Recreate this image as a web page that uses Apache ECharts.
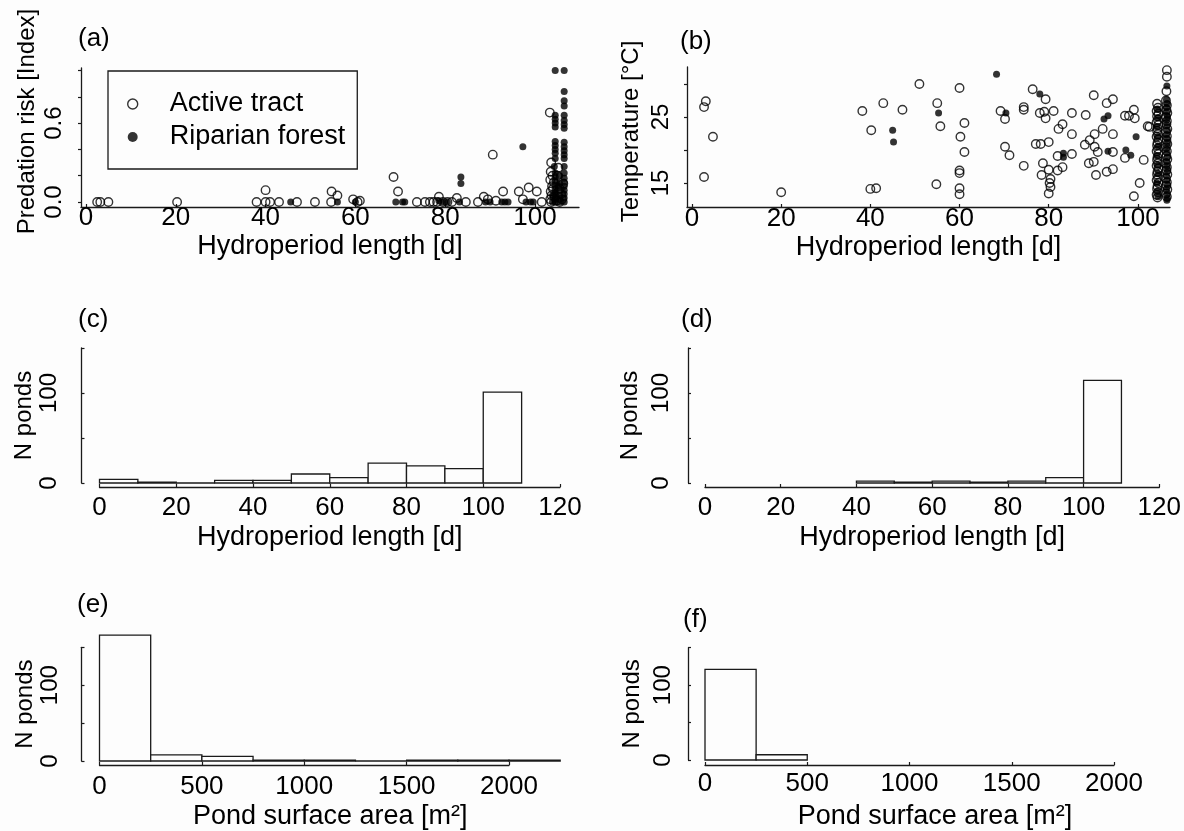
<!DOCTYPE html>
<html>
<head>
<meta charset="utf-8">
<script src="https://cdn.jsdelivr.net/npm/echarts@6/dist/echarts.min.js"></script>
<style>
html,body{margin:0;padding:0;background:#fdfdfd;}
#chart{width:1184px;height:831px;}
</style>
</head>
<body>
<div id="chart"></div>
<script>
// ---------- DATA ----------
// (a) Predation risk vs hydroperiod length  [hydroperiod d, risk index]
const predationActive = [
  [2.5,0],[3.2,0],[5,0],[20.3,0],[38,0],[40,0.09],[40,0],[41,0],[43,0],[47,0],[51,0],
  [54.6,0],[54.7,0.08],[56,0.05],[59.5,0.02],[60.5,0],[61,0.01],[68.5,0.19],[69.5,0.08],
  [73.7,0],[75.5,0],[76.6,0],[77.4,0],[78.2,0],[78.6,0.04],[79.5,0],[80.5,0],[81.5,0],
  [82.6,0.03],[84.6,0],[87.3,0],[88.6,0.04],[89.5,0.02],[90.6,0.36],[91.3,0.01],[92.9,0.08],
  [96.4,0.08],[97.3,0.02],[98.6,0.11],[100.4,0.08],[101.5,0],
  [103.3,0.68],[103.5,0.23],[103.6,0.30],[103.4,0.17],[103.8,0.12],[103.5,0.08],[103.7,0.05],
  [103.4,0.02],[103.6,0],[104.2,0.15],[104.0,0.10],[104.4,0.04],[105.0,0.20],[105.2,0.26],
  [105.5,0.10],[105.8,0.06],[106.0,0.02],[106.3,0.14],[104.8,0.01],[105.5,0],[103.9,0.20]
];
const predationRiparian = [
  [45.6,0],[56,0],[60,0],[69,0],[70.5,0],[71,0],[78.6,0.01],[79.5,0],[80.5,0],[83.5,0.19],
  [83.5,0.14],[83.2,0],[89,0],[90,0],[92.6,0],[93.3,0],[94,0],[97.3,0.42],[98,0],[99,0],[99.6,0],
  [104.5,1.0],[104.5,0.66],[104.5,0.63],[104.5,0.60],[104.5,0.57],[104.5,0.46],[104.5,0.43],
  [104.5,0.40],[104.5,0.37],[104.5,0.33],[104.3,0.27],[104.5,0.22],[104.5,0.19],[104.5,0.16],
  [104.5,0.13],[104.5,0.10],[104.5,0.07],[104.5,0.04],[104.5,0.02],[104.5,0],
  [106.5,1.0],[106.5,0.84],[106.5,0.77],[106.5,0.73],[106.5,0.66],[106.5,0.62],[106.5,0.59],
  [106.5,0.56],[106.5,0.455],[106.5,0.42],[106.5,0.39],[106.5,0.36],[106.5,0.33],[106.5,0.27],
  [106.5,0.22],[106.5,0.18],[106.5,0.15],[106.5,0.12],[106.5,0.09],[106.5,0.06],[106.5,0.03],[106.5,0],
  [105.5,0.20],[105.5,0.14],[105.5,0.09],[105.5,0.05],[105.5,0.02],[105.5,0],[105.3,0.12],[103.9,0.05],[103.9,0]
];
// (b) Temperature vs hydroperiod length  [hydroperiod d, temperature °C]
const temperatureActive = [
  [2.7,26.5],[3.1,27.4],[4.7,22.0],[2.7,15.9],[20,13.6],[38.2,25.9],[40.2,23.0],[40,14.1],[41.3,14.2],
  [42.9,27.1],[47.2,26.1],[51,30.0],[55,27.1],[55.7,23.6],[54.8,14.8],[60,29.4],[61.1,24.1],[60.2,22.0],
  [61.1,19.7],[60,16.9],[60,16.5],[60,14.2],[60,13.3],[69.2,25.9],[70.2,24.7],[70.2,20.5],[71.2,19.2],
  [74.4,26.5],[74.4,26.1],[74.4,17.6],[76.4,29.2],[79.3,27.7],[78,25.6],[79,25.8],[79.3,24.8],[81.1,25.9],
  [77.1,20.9],[78.2,20.9],[80,21.2],[78.7,18.0],[78.4,16.2],[80,17.0],[80.4,15.6],[80.4,14.4],[80,13.4],
  [80.2,15.0],[82.2,23.2],[83.1,23.9],[82,19.1],[83.1,17.4],[82,16.9],[85.2,25.6],[85.2,22.4],[85.2,19.4],
  [88.3,25.3],[88.1,20.8],[89.2,21.5],[89,18.0],[90.1,18.2],[90.6,16.2],[90.1,28.3],[90.3,20.5],[91,19.7],
  [90.3,22.4],[92.1,23.2],[93,27.1],[94.4,27.7],[94.4,19.7],[94.4,22.4],[93,16.7],[94.4,17.1],[97.1,25.2],
  [98,25.2],[99.1,26.1],[99.3,24.8],[97.1,18.8],[101.3,18.5],[100.4,15.0],[99.1,13.0],[102.2,23.6],[102.6,23.5],
  [104.3,27.0],[104.5,26.4],[104.2,25.9],[104.6,25.5],[104.3,25.1],[104.5,24.6],[104.2,24.2],[104.6,23.8],
  [104.4,23.3],[104.3,22.9],[104.5,22.4],[104.2,22.0],[104.6,21.6],[104.4,21.1],[104.3,20.7],[104.5,20.2],
  [104.2,19.8],[104.6,19.4],[104.4,18.9],[104.3,18.5],[104.5,18.0],[104.2,17.6],[104.6,17.2],[104.4,16.7],
  [104.3,16.3],[104.5,15.8],[104.2,15.4],[104.6,15.0],[104.4,14.5],[104.3,14.1],[104.5,13.6],[104.2,13.2],[104.4,12.8],
  [106.5,32.1],[106.5,31.1],[106.4,28.9],[106.3,27.5],[106.5,26.8],[106.4,26.1],[106.6,25.6],[106.3,25.0],
  [106.5,24.4],[106.4,23.9],[106.6,23.2],[106.3,22.7],[106.5,22.1],[106.4,21.5],[106.6,20.9],[106.3,20.4],
  [106.5,19.8],[106.4,19.1],[106.6,18.6],[106.3,18.0],[106.5,17.4],[106.4,16.9],[106.6,16.3],[106.3,15.7],
  [106.5,15.1],[106.4,14.6],[106.6,14.0],[106.3,13.4],[106.5,12.9]
];
const temperatureRiparian = [
  [45,23.0],[45.2,21.2],[55.3,25.6],[68.3,31.5],[70.4,25.6],[78,28.5],[83.3,19.5],[83.3,18.9],
  [92.4,24.7],[93.3,25.2],[93.3,19.8],[97.3,20.0],[98.4,19.2],[99.6,22.0],
  [106.5,29.7],[106.4,27.6],[106.6,27.0],[106.4,26.4],[106.5,25.7],[106.6,25.1],[106.4,24.5],[106.5,23.8],
  [106.6,23.0],[106.4,22.3],[106.5,21.7],[106.6,21.0],[106.4,20.3],[106.5,19.6],[106.6,18.9],[106.4,18.2],
  [106.5,17.5],[106.6,16.8],[106.4,16.1],[106.5,15.4],[106.6,14.7],[106.4,14.0],[106.5,13.3],[106.6,12.7],[106.5,12.4],
  [104.4,26.2],[104.5,24.9],[104.3,23.5],[104.4,22.0],[104.5,20.6],[104.3,19.1],[104.4,17.7],[104.5,16.4],
  [104.3,15.0],[104.4,13.7],[104.5,12.9]
];
// (c) Active tract: hydroperiod histogram (bin edges, counts)
const hydroBinsActive = [0,10,20,30,40,50,60,70,80,90,100,110];
const hydroCountsActive = [4,1,0,3,3,10,6,22,19,16,101];
// (d) Riparian forest: hydroperiod histogram
const hydroBinsRiparian = [40,50,60,70,80,90,100,110];
const hydroCountsRiparian = [2,1,2,1,2,6,114];
// (e) Active tract: pond surface area histogram
const areaBinsActive = [0,250,500,750,1000,1250,1500,1750,2000,2250];
const areaCountsActive = [166,8,6,1,1,0,1,1,1];
// (f) Riparian forest: pond surface area histogram
const areaBinsRiparian = [0,250,500];
const areaCountsRiparian = [121,7];
// tick values / labels
const hydroTicks = [0,20,40,60,80,100];
const hydroTicksHist = [0,20,40,60,80,100,120];
const riskTicks = [0,0.2,0.4,0.6,0.8,1.0];
const riskLabels = [0,0.6];
const tempTicks = [15,20,25,30];
const tempLabels = [15,25];
const countTicks = [0,50,100,150];
const countLabels = [0,100];
const areaTicks = [0,500,1000,1500,2000];

// ---------- helpers ----------
const FONT = 'Liberation Sans';
const INK = '#000';
const LINE = '#1a1a1a';
function histData(edges, counts){
  return counts.map((c,i)=>[edges[i], edges[i+1], c]);
}
function histSeries(idx, edges, counts){
  return {
    type:'custom', xAxisIndex:idx, yAxisIndex:idx, clip:false, silent:true,
    encode:{x:[0,1], y:2},
    data: histData(edges, counts),
    renderItem:function(params, api){
      const p0 = api.coord([api.value(0), 0]);
      const p1 = api.coord([api.value(1), api.value(2)]);
      return {type:'rect', shape:{x:p0[0], y:p1[1], width:p1[0]-p0[0], height:p0[1]-p1[1]},
              style:{fill:'#fdfdfd', stroke:LINE, lineWidth:1.3}};
    }
  };
}
function xAxis(gi, min, max, ticks, o){
  return {
    gridIndex:gi, type:'value', min:min, max:max, offset:o.offset||0,
    axisLine:{show:true, onZero:false, lineStyle:{color:LINE, width:1.3}},
    axisTick:{show:true, inside:true, length:3, customValues:ticks, lineStyle:{color:LINE, width:1.2}},
    axisLabel:{customValues:ticks, margin:o.margin, fontSize:26, fontFamily:FONT, color:INK,
               formatter:function(v){return String(v);}},
    splitLine:{show:false},
    name:o.name, nameLocation:'middle', nameGap:o.nameGap,
    nameTextStyle:{fontSize:27, fontFamily:FONT, color:INK, padding:o.namePad||0}
  };
}
function yAxis(gi, min, max, ticks, labels, o){
  return {
    gridIndex:gi, type:'value', min:min, max:max, offset:o.offset||0,
    axisLine:{show:true, onZero:false, lineStyle:{color:LINE, width:1.3}},
    axisTick:{show:true, inside:!!o.inside, length:3, customValues:ticks, lineStyle:{color:LINE, width:1.2}},
    axisLabel:{customValues:labels, rotate:90, margin:o.margin, fontSize:24, fontFamily:FONT, color:INK,
               formatter:o.fmt||function(v){return String(v);}},
    splitLine:{show:false},
    name:o.name, nameLocation:'middle', nameGap:o.nameGap,
    nameTextStyle:{fontSize:24, fontFamily:FONT, color:INK, padding:o.namePad||0}
  };
}
const openStyle = {color:'rgba(0,0,0,0)', borderColor:'#000', borderWidth:1.4};
const fillStyle = {color:'#000'};
function panelTitle(t, x, y){
  return {text:t, left:x, top:y, padding:0,
          textStyle:{fontSize:26, fontWeight:'normal', fontFamily:FONT, color:INK}};
}

const option = {
  backgroundColor:'#fdfdfd',
  animation:false,
  title:[
    panelTitle('(a)',78,26), panelTitle('(b)',680,29),
    panelTitle('(c)',78,307), panelTitle('(d)',681,307),
    panelTitle('(e)',77,592), panelTitle('(f)',683,607)
  ],
  legend:{
    orient:'vertical', left:108, top:71,
    padding:[19.5,12,18.5,19], itemGap:6, itemWidth:38, itemHeight:10,
    borderColor:LINE, borderWidth:1.3,
    textStyle:{fontSize:27, fontFamily:FONT, color:INK, padding:[0,0,0,13]},
    data:[
      {name:'Active tract', icon:'circle', itemStyle:openStyle},
      {name:'Riparian forest', icon:'circle', itemStyle:fillStyle}
    ]
  },
  grid:[
    {left:81, top:68, width:498, height:139},
    {left:687, top:67, width:483, height:140},
    {left:99.5, top:348, width:460.5, height:135},
    {left:705, top:348, width:460, height:135},
    {left:99.5, top:647.3, width:409.5, height:115.4},
    {left:705, top:647.7, width:409, height:115}
  ],
  xAxis:[
    xAxis(0, -1.1, 109.8, hydroTicks, {margin:-2, name:'Hydroperiod length [d]', nameGap:26}),
    xAxis(1, -1.12, 107.2, hydroTicks, {margin:-1, name:'Hydroperiod length [d]', nameGap:27}),
    xAxis(2, 0, 120, hydroTicksHist, {offset:4, margin:8, name:'Hydroperiod length [d]', nameGap:37}),
    xAxis(3, 0, 120, hydroTicksHist, {offset:4, margin:8, name:'Hydroperiod length [d]', nameGap:37}),
    xAxis(4, 0, 2000, areaTicks, {offset:4, margin:9, name:'Pond surface area [m²]', nameGap:38, namePad:[0,0,0,52]}),
    xAxis(5, 0, 2000, areaTicks, {offset:5, margin:6, name:'Pond surface area [m²]', nameGap:38, namePad:[0,0,0,51]})
  ],
  yAxis:[
    yAxis(0, -0.038, 1.019, riskTicks, riskLabels, {margin:15, fmt:function(v){return v.toFixed(1);}, name:'Predation risk [Index]', nameGap:42, namePad:[0,0,0,32]}),
    yAxis(1, 11.36, 32.58, tempTicks, tempLabels, {margin:14, name:'Temperature [°C]', nameGap:44, namePad:[0,0,0,11]}),
    yAxis(2, 0, 150, countTicks, countLabels, {offset:18, inside:true, margin:20, name:'N ponds', nameGap:42}),
    yAxis(3, 0, 150, countTicks, countLabels, {offset:17, inside:true, margin:15, name:'N ponds', nameGap:46}),
    yAxis(4, 0, 150, countTicks, countLabels, {offset:18, inside:true, margin:19, name:'N ponds', nameGap:42}),
    yAxis(5, 0, 150, countTicks, countLabels, {offset:17, inside:true, margin:13, name:'N ponds', nameGap:44})
  ],
  series:[
    {name:'Active tract', type:'scatter', xAxisIndex:0, yAxisIndex:0, symbol:'circle', symbolSize:8.5,
     itemStyle:openStyle, data:predationActive, silent:true},
    {name:'Riparian forest', type:'scatter', xAxisIndex:0, yAxisIndex:0, symbol:'circle', symbolSize:7,
     itemStyle:fillStyle, data:predationRiparian, silent:true},
    {name:'Active tract', type:'scatter', xAxisIndex:1, yAxisIndex:1, symbol:'circle', symbolSize:8.5,
     itemStyle:openStyle, data:temperatureActive, silent:true},
    {name:'Riparian forest', type:'scatter', xAxisIndex:1, yAxisIndex:1, symbol:'circle', symbolSize:7,
     itemStyle:fillStyle, data:temperatureRiparian, silent:true},
    histSeries(2, hydroBinsActive, hydroCountsActive),
    histSeries(3, hydroBinsRiparian, hydroCountsRiparian),
    histSeries(4, areaBinsActive, areaCountsActive),
    histSeries(5, areaBinsRiparian, areaCountsRiparian)
  ]
};
const chart = echarts.init(document.getElementById('chart'));
chart.setOption(option);
</script>
</body>
</html>
